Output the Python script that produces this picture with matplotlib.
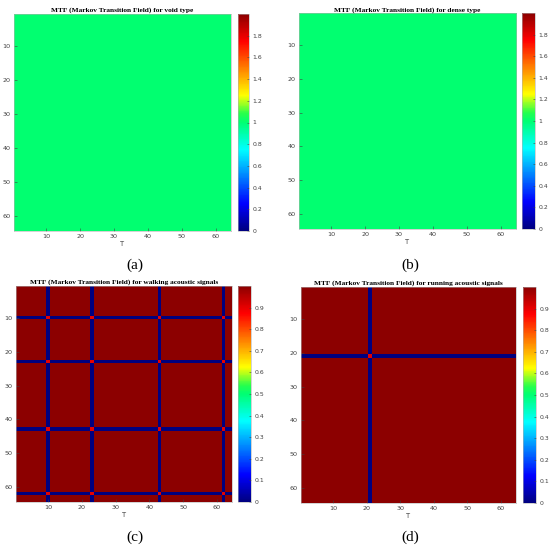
import numpy as np
import matplotlib
matplotlib.use("Agg")
import matplotlib.pyplot as plt
from matplotlib.colors import LinearSegmentedColormap

# ---- data ----
grid_size = 64
void_value = 1.0
dense_value = 1.0
walking_breaks = [10, 23, 43, 62]
running_breaks = [21]
background_value = 1.0
line_value = 0.0
cross_value = 0.9
titles = ["MTF (Markov Transition Field) for void type",
          "MTF (Markov Transition Field) for dense type",
          "MTF (Markov Transition Field) for walking acoustic signals",
          "MTF (Markov Transition Field) for running acoustic signals"]
panel_labels = ["(a)", "(b)", "(c)", "(d)"]
axis_ticks = [10, 20, 30, 40, 50, 60]
cbar_ticks_flat = [0, 0.2, 0.4, 0.6, 0.8, 1, 1.2, 1.4, 1.6, 1.8]
cbar_ticks_sig = [0, 0.1, 0.2, 0.3, 0.4, 0.5, 0.6, 0.7, 0.8, 0.9]
clim_flat = (0, 2)
clim_sig = (0, 1)


def mtf_matrix(breaks):
    m = np.full((grid_size, grid_size), background_value)
    idx = [b - 1 for b in breaks]
    for i in idx:
        m[i, :] = line_value
        m[:, i] = line_value
    for i in idx:
        for j in idx:
            m[i, j] = cross_value
    return m


mats = [np.full((grid_size, grid_size), void_value),
        np.full((grid_size, grid_size), dense_value),
        mtf_matrix(walking_breaks),
        mtf_matrix(running_breaks)]
clims = [clim_flat, clim_flat, clim_sig, clim_sig]
cticks = [cbar_ticks_flat, cbar_ticks_flat, cbar_ticks_sig, cbar_ticks_sig]

cmap = LinearSegmentedColormap.from_list("jetlike", [
    (0.0, (0.0, 0.0, 0.5)),
    (0.125, (0.0, 0.0, 1.0)),
    (0.375, (0.0, 1.0, 1.0)),
    (0.5, (0.0, 1.0, 0.45)),
    (0.54, (0.15, 1.0, 0.3)),
    (0.625, (1.0, 1.0, 0.0)),
    (0.875, (1.0, 0.0, 0.0)),
    (1.0, (0.55, 0.0, 0.0)),
])

W, H = 550, 548
fig = plt.figure(figsize=(W / 100, H / 100), dpi=100)
fig.patch.set_facecolor("white")

# pixel layouts: (img_left, img_top, img_right, img_bottom, cb_left, cb_right, title_y, label_x, label_y)
layouts = [
    (14, 14, 231, 231, 238, 249, 10, 135, 265),
    (299, 13, 516, 229, 522, 535, 10, 410, 265),
    (16, 286, 232, 502, 238, 251, 282, 135, 537),
    (301, 287, 516, 503, 523, 536, 283, 410, 537),
]


def rect(l, t, r, b):
    return [l / W, 1 - b / H, (r - l) / W, (b - t) / H]


tick_color = "#404040"
for k in range(4):
    l, t, r, b, cl, cr, ty, lx, ly = layouts[k]
    ax = fig.add_axes(rect(l, t, r, b))
    im = ax.imshow(mats[k], cmap=cmap, vmin=clims[k][0], vmax=clims[k][1],
                   extent=(0.5, grid_size + 0.5, grid_size + 0.5, 0.5),
                   aspect="auto", interpolation="nearest")
    ax.set_xticks(axis_ticks)
    ax.set_yticks(axis_ticks)
    ax.tick_params(direction="in", length=2, width=0.4, labelsize=4.6,
                   colors=tick_color, pad=2.5)
    for s in ax.spines.values():
        s.set_color("#b0b0b0")
        s.set_linewidth(0.4)
    ax.set_xlabel("T", fontsize=4.8, color=tick_color, labelpad=1)
    fig.text((l + r) / 2 / W, 1 - ty / H, titles[k], ha="center", va="center",
             fontsize=5.3, fontweight="bold", family="Liberation Serif")
    fig.text(lx / W, 1 - ly / H, panel_labels[k], ha="center", va="center",
             fontsize=11, family="Liberation Serif")
    cax = fig.add_axes(rect(cl, t, cr, b))
    cb = fig.colorbar(im, cax=cax, ticks=cticks[k])
    cb.ax.set_yticklabels([("%g" % v) for v in cticks[k]])
    cb.ax.tick_params(direction="in", length=1.5, width=0.4, labelsize=4.4,
                      colors=tick_color, pad=2.5)
    cb.outline.set_linewidth(0.4)
    cb.outline.set_edgecolor("#b0b0b0")

fig.savefig("out.png", dpi=100)
